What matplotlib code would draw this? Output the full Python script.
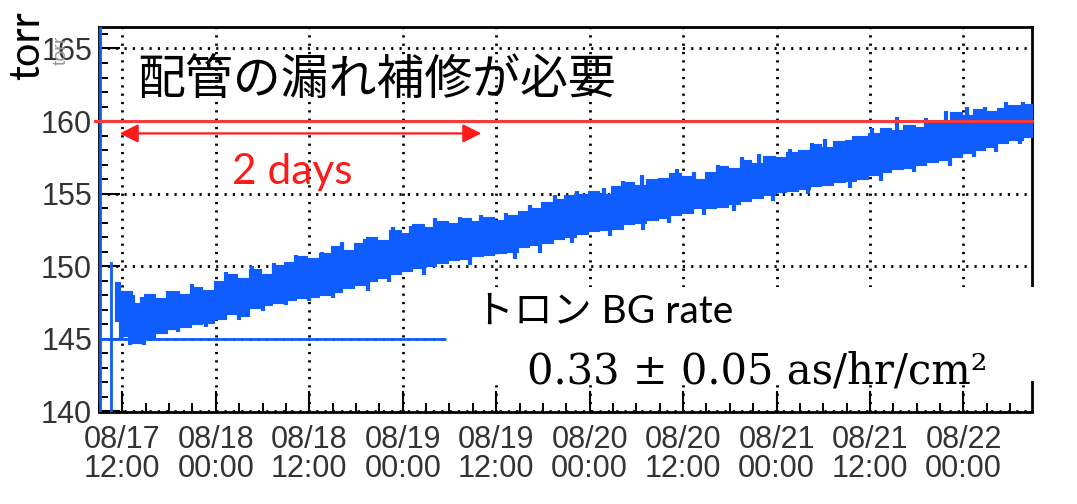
import numpy as np
import matplotlib.pyplot as plt
from matplotlib.patches import Rectangle
from matplotlib.ticker import MultipleLocator

# hours counted from 08/17 12:00
hours = [-1.0, 0.5, 2.0, 3.5, 5.0, 6.5, 8.0, 9.5, 11.0, 12.5,
         14.0, 15.5, 17.0, 18.5, 20.0, 21.5, 23.0, 24.5, 26.0, 27.5,
         29.0, 30.5, 32.0, 33.5, 35.0, 36.5, 38.0, 39.5, 41.0, 42.5,
         44.0, 45.5, 47.0, 48.5, 50.0, 51.5, 53.0, 54.5, 56.0, 57.5,
         59.0, 60.5, 62.0, 63.5, 65.0, 66.5, 68.0, 69.5, 71.0, 72.5,
         74.0, 75.5, 77.0, 78.5, 80.0, 81.5, 83.0, 84.5, 86.0, 87.5,
         89.0, 90.5, 92.0, 93.5, 95.0, 96.5, 98.0, 99.5, 101.0, 102.5,
         104.0, 105.5, 107.0, 108.5, 110.0, 111.5, 113.0, 114.5, 116.8]

torr_high = [148.9, 148.3, 147.5, 148.1, 147.8, 148.3, 148.1, 148.6, 148.4, 149.0,
             149.5, 149.2, 149.8, 149.5, 150.1, 150.3, 150.7, 150.6, 150.9, 151.4,
             151.1, 151.6, 152.0, 151.8, 152.5, 152.3, 152.9, 152.7, 153.1, 153.0,
             153.3, 153.1, 153.4, 153.2, 153.5, 153.8, 154.0, 154.4, 154.6, 154.9,
             155.0, 155.2, 155.0, 155.5, 155.8, 155.6, 156.0, 156.1, 156.4, 156.2,
             156.0, 156.5, 156.9, 156.8, 157.3, 157.1, 157.6, 157.5, 157.9, 158.0,
             158.4, 158.2, 158.6, 158.7, 159.0, 159.2, 159.5, 159.4, 159.7, 159.6,
             159.9, 160.0, 160.6, 160.4, 160.8, 160.7, 160.9, 161.1, 161.2]

torr_low = [146.2, 145.2, 144.7, 145.0, 145.4, 145.7, 145.8, 146.0, 146.1, 146.4,
            146.7, 146.6, 147.1, 147.3, 147.5, 147.7, 147.8, 147.9, 148.0, 148.2,
            148.5, 148.7, 149.0, 149.2, 149.5, 149.7, 149.9, 150.0, 150.2, 150.4,
            150.5, 150.7, 150.8, 150.9, 151.0, 151.3, 151.5, 151.6, 151.9, 152.0,
            152.2, 152.4, 152.5, 152.6, 152.9, 153.0, 153.2, 153.3, 153.5, 153.7,
            154.0, 154.0, 154.1, 154.3, 154.5, 154.7, 154.9, 155.1, 155.2, 155.3,
            155.5, 155.6, 155.8, 155.9, 156.0, 156.3, 156.5, 156.7, 156.8, 157.0,
            157.2, 157.3, 157.5, 157.8, 158.0, 158.2, 158.5, 158.7, 158.9]

# single-reading excursions above / below the band
peak_hours = [-0.6, 1.4, 2.5, 5.8, 9.0, 13.3, 16.6, 19.5, 22.3, 25.6,
              28.2, 31.2, 34.8, 37.0, 40.2, 43.3, 46.0, 49.3, 52.4, 55.6,
              58.4, 61.8, 64.3, 66.7, 71.2, 73.4, 76.5, 79.6, 81.8, 85.7,
              88.6, 90.2, 94.0, 96.3, 99.5, 103.2, 105.7, 108.4, 110.8, 113.5,
              115.6]
peak_torr = [148.9, 148.0, 147.9, 148.3, 148.8, 149.6, 150.0, 150.2, 150.8, 151.0,
             151.7, 151.9, 152.7, 152.8, 153.3, 153.4, 153.5, 153.7, 154.2, 154.9,
             155.2, 155.4, 155.9, 156.3, 156.7, 156.5, 157.0, 157.5, 157.7, 158.1,
             158.5, 158.8, 159.0, 159.5, 160.3, 160.2, 160.7, 161.0, 161.0, 161.3,
             161.3]
dip_hours = [-0.2, 1.0, 2.8, 4.0, 7.2, 10.8, 15.0, 18.0, 21.0, 24.0,
             27.0, 31.6, 34.2, 38.7, 44.6, 50.4, 53.6, 57.7, 62.6, 66.8,
             70.2, 74.7, 78.5, 83.5, 88.0, 93.4, 97.4, 101.6, 106.3, 109.3,
             112.2, 115.3]
dip_torr = [144.9, 144.6, 144.6, 144.9, 145.5, 145.8, 146.3, 146.9, 147.3, 147.6,
            147.8, 148.3, 148.9, 149.4, 150.1, 150.5, 150.9, 151.6, 152.1, 152.5,
            153.0, 153.5, 153.8, 154.5, 155.0, 155.4, 155.9, 156.5, 156.9, 157.5,
            157.9, 158.4]

# start-up transient before the readings settle (off scale outside 140-166.5)
start_hours = [-2.9, -2.9, -1.45, -1.45]
start_torr = [175.0, 130.0, 130.0, 150.2]

tick_hours = [0, 12, 24, 36, 48, 60, 72, 84, 96, 108]
tick_labels = ['08/17\n12:00', '08/18\n00:00', '08/18\n12:00', '08/19\n00:00',
               '08/19\n12:00', '08/20\n00:00', '08/20\n12:00', '08/21\n00:00',
               '08/21\n12:00', '08/22\n00:00']

leak_level = 160.0
bg_level = 145.0
bg_end = 41.6
span_start, span_end = -0.35, 46.1
span_y = 159.15

blue = '#0f5cff'
red = '#ff1a1a'

W, H = 1077, 504
fig = plt.figure(figsize=(W / 100, H / 100), dpi=100)
ax = fig.add_axes([99 / W, 1 - 411.5 / H, (1032 - 99) / W, (411.5 - 26.7) / H])

ax.plot(start_hours, start_torr, color=blue, lw=2, zorder=3)
ax.fill_between(hours, torr_low, torr_high, step='mid', color=blue, lw=0.8,
                edgecolor=blue, zorder=3)
mid = (np.array(torr_high) + np.array(torr_low)) / 2
ax.vlines(peak_hours, np.interp(peak_hours, hours, mid), peak_torr,
          color=blue, lw=3, zorder=3)
ax.vlines(dip_hours, dip_torr, np.interp(dip_hours, hours, mid),
          color=blue, lw=3, zorder=3)

ax.axhline(leak_level, xmin=-0.004, color='#f53b3b', lw=2.2, zorder=4, clip_on=False)
ax.hlines(bg_level, -3.0, bg_end, color=blue, lw=2, zorder=4)

ax.annotate('', xy=(span_start, span_y), xytext=(span_end, span_y),
            arrowprops=dict(arrowstyle='<|-|>', color=red, lw=1.6,
                            mutation_scale=28, shrinkA=0, shrinkB=0))

ax.set_xlim(-3.0, 116.8)
ax.set_ylim(140, 166.5)
ax.set_xticks(tick_hours)
ax.set_xticklabels(tick_labels)
ax.xaxis.set_minor_locator(MultipleLocator(3))
ax.yaxis.set_major_locator(MultipleLocator(5))
ax.yaxis.set_minor_locator(MultipleLocator(1))

ax.tick_params(which='both', direction='in', top=False, right=False,
               colors='black', labelcolor='#333333', labelsize=22,
               labelfontfamily='Liberation Sans')
ax.tick_params(which='major', length=15, width=1.5)
ax.tick_params(which='minor', length=6.5, width=1.4)
ax.tick_params(axis='x', pad=10)
ax.tick_params(axis='y', pad=5)
for lbl in ax.get_xticklabels():
    lbl.set_linespacing(0.95)

for sp in ax.spines.values():
    sp.set_linewidth(2)

ax.grid(True, which='major', color='black', lw=2, linestyle=(0, (0.8, 2.2)))
ax.set_axisbelow(True)

# white text panel over the lower right part of the frame
fig.add_artist(Rectangle((448 / W, 1 - 381 / H), (1045 - 448) / W, (381 - 287) / H,
                         transform=fig.transFigure, facecolor='white',
                         edgecolor='none', zorder=2))

fig.text(27 / W, 1 - 46 / H, 'torr', rotation=90, ha='center', va='center',
         fontsize=30, family='Lato', zorder=3)
fig.text(61 / W, 1 - 50 / H, 'torr', rotation=90, ha='center', va='center',
         fontsize=14, family='Liberation Sans', color='#999999', zorder=1)
fig.text(137 / W, 1 - 80 / H, '配管の漏れ補修が必要', ha='left', va='center',
         fontsize=34.5, family=['Noto Sans CJK JP', 'DejaVu Sans'], zorder=3)
fig.text(292 / W, 1 - 172 / H, '2 days', ha='center', va='center',
         fontsize=30.5, family='Lato', color=red, zorder=3)
fig.text(475 / W, 1 - 312 / H, 'トロン BG rate', ha='left', va='center',
         fontsize=28, family=['Lato', 'Noto Sans CJK JP'], zorder=3)
fig.text(527 / W, 1 - 371 / H, '0.33 ± 0.05 as/hr/cm²', ha='left', va='center',
         fontsize=30, family='DejaVu Serif', zorder=3)

fig.savefig('out.png', dpi=100)
